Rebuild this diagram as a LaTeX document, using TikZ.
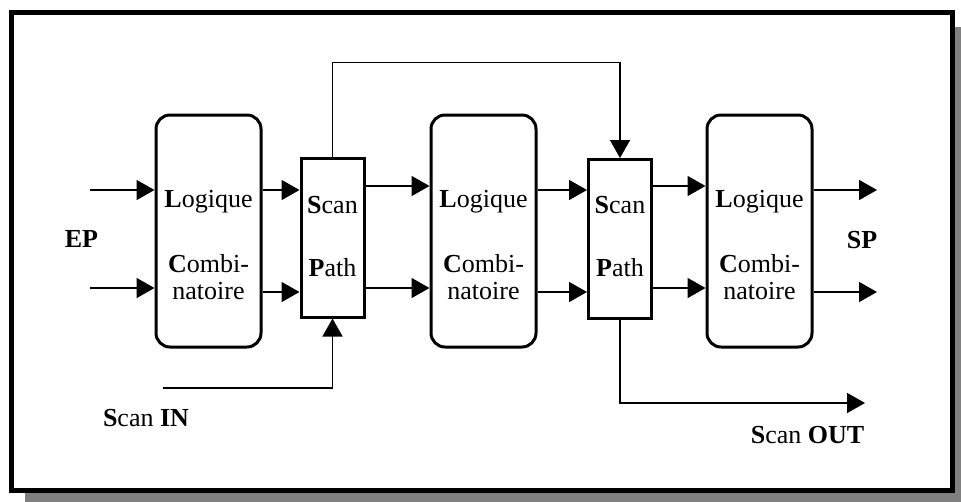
\documentclass[tikz,border=0pt]{standalone}
\usepackage{fontspec}
\setmainfont{Liberation Serif}
\usetikzlibrary{arrows.meta,positioning}

\begin{document}
\begin{tikzpicture}[
  x=0.75pt, y=-0.75pt,
  >={Triangle[length=13.5pt,width=15pt]},
  frame/.style={draw, line width=3.75pt, fill=white},
  logic/.style={draw, line width=2.25pt, rounded corners=10.5pt, minimum width=78.75pt, minimum height=174pt},
  scanbox/.style={draw, line width=2.25pt, minimum width=47.25pt, minimum height=119.25pt},
  txt/.style={font=\fontsize{19.5}{20.25}\selectfont, align=center, inner sep=0pt},
  line/.style={draw, line width=1.2pt, ->}
]
\useasboundingbox (0,0) rectangle (961,501);

% cadre avec ombre
\fill[black!50] (25,27) rectangle (971,511);
\path[frame] (11.5,12.5) rectangle (952.5,490.5);

% blocs
\node[logic] (lc1) at (208.5,231) {};
\node[scanbox] (sp1) at (332.5,237.5) {};
\node[logic] (lc2) at (483.5,231) {};
\node[scanbox] (sp2) at (620,239) {};
\node[logic] (lc3) at (759.5,231) {};

% textes (ancre = ligne de base de la derniere ligne)
\node[txt, anchor=base] (tl1) at (208.5,299) {\textbf{L}ogique\\[28.5pt]\textbf{C}ombi-\\natoire};
\node[txt, anchor=base] (ts1) at (332.5,276) {\textbf{S}can\\[27pt]\textbf{P}ath};
\node[txt, anchor=base] (tl2) at (483.5,299) {\textbf{L}ogique\\[28.5pt]\textbf{C}ombi-\\natoire};
\node[txt, anchor=base] (ts2) at (620,276) {\textbf{S}can\\[27pt]\textbf{P}ath};
\node[txt, anchor=base] (tl3) at (759.5,299) {\textbf{L}ogique\\[28.5pt]\textbf{C}ombi-\\natoire};

% entrees / sorties
\node[txt, anchor=base] (ep) at (81.5,247) {\textbf{EP}};
\node[txt, anchor=base] (sp) at (862,248) {\textbf{SP}};
\node[txt, anchor=base] (scin) at (146,426) {\textbf{S}can \textbf{IN}};
\node[txt, anchor=base] (scout) at (807.5,443) {\textbf{S}can \textbf{OUT}};

\coordinate (ya) at (0,190);
\coordinate (yb) at (0,292);
\coordinate (yc) at (0,186);
\coordinate (yd) at (0,288);
\coordinate (in1) at (90,190);
\coordinate (in2) at (90,288);
\coordinate (out1) at (877,190);
\coordinate (out2) at (877,292);
\coordinate (sin) at (163,388);
\coordinate (sout) at (865,403);

\path[line] (in1) -- (in1 -| lc1.west);
\path[line] (in2) -- (in2 -| lc1.west);
\path[line] (lc1.east |- ya) -- (sp1.west |- ya);
\path[line] (lc1.east |- yb) -- (sp1.west |- yb);
\path[line] (sp1.east |- yc) -- (lc2.west |- yc);
\path[line] (sp1.east |- yd) -- (lc2.west |- yd);
\path[line] (lc2.east |- ya) -- (sp2.west |- ya);
\path[line] (lc2.east |- yb) -- (sp2.west |- yb);
\path[line] (sp2.east |- yc) -- (lc3.west |- yc);
\path[line] (sp2.east |- yd) -- (lc3.west |- yd);
\path[line] (lc3.east |- ya) -- (out1);
\path[line] (lc3.east |- yb) -- (out2);

\path[line] (sp1.north) -- ++(0,-94) -| (sp2.north);
\path[line] (sin) -| (sp1.south);
\path[line] (sp2.south) |- (sout);

\end{tikzpicture}
\end{document}
